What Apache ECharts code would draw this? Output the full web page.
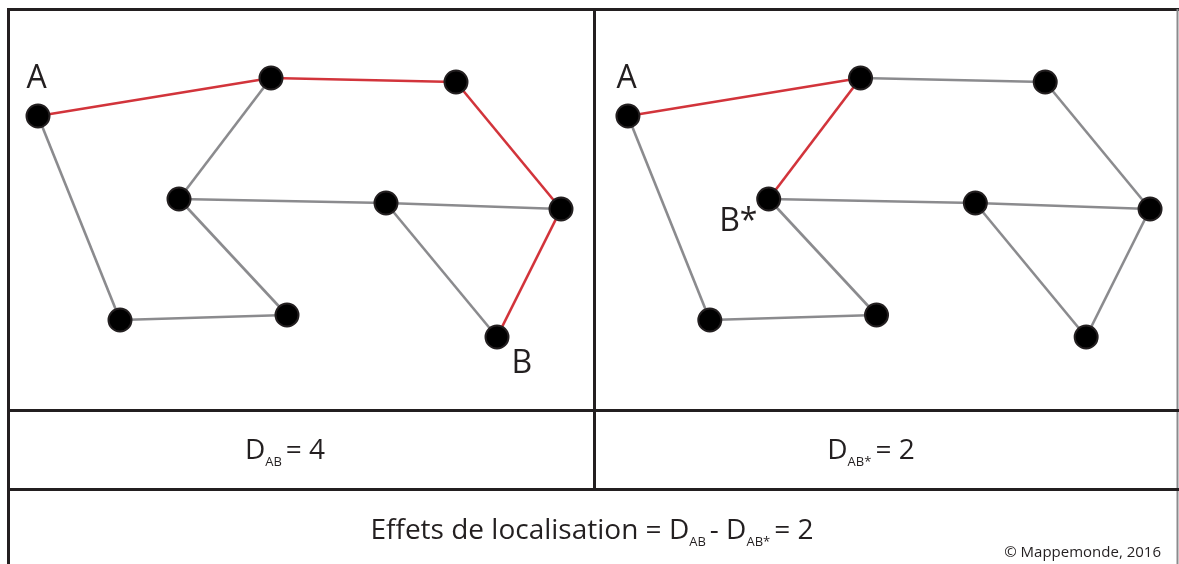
<!DOCTYPE html>
<html>
<head>
<meta charset="utf-8">
<script src="https://cdn.jsdelivr.net/npm/echarts@6/dist/echarts.min.js"></script>
<style>html,body{margin:0;padding:0;background:#fff}#c{width:1179px;height:564px}</style>
</head>
<body>
<div id="c"></div>
<script>
// Node positions (shared by both panels), in panel coordinates
var nodeNames = ['A', 'N2', 'N3', 'N4', 'N5', 'N6', 'N7', 'N8', 'B'];
var nodeX = [38, 271, 456, 179, 386, 561, 120, 287, 497];
var nodeY = [116, 78, 82, 199, 203, 209, 320, 315, 337];
// Edges of the network
var edges = [
  ['A', 'N2'], ['N2', 'N3'], ['N3', 'N6'], ['N6', 'B'],
  ['A', 'N7'], ['N7', 'N8'], ['N8', 'N4'], ['N4', 'N2'],
  ['N4', 'N5'], ['N5', 'N6'], ['N5', 'B']
];
// Highlighted path in each panel
var pathLeft = [['A', 'N2'], ['N2', 'N3'], ['N3', 'N6'], ['N6', 'B']];
var pathRight = [['A', 'N2'], ['N2', 'N4']];
// Node labels per panel
var labelsLeft = { A: 'A', B: 'B' };
var labelsRight = { A: 'A', N4: 'B*' };
// Text values
var dLeft = 4, dRight = 2, effect = 2;

var FONT = '"Open Sans", "Noto Sans", sans-serif';
var GRAY = '#8b8b8e', RED = '#d2343b';

function isOnPath(path, a, b) {
  return path.some(function (p) { return (p[0] === a && p[1] === b) || (p[0] === b && p[1] === a); });
}
var labelPos = {
  A: [1, -41],
  B: [27, 23],
  N4: [-37, 19]
};
function buildSeries(idx, path, labels) {
  return {
    type: 'graph',
    coordinateSystem: 'cartesian2d',
    xAxisIndex: idx, yAxisIndex: idx,
    symbol: 'circle', symbolSize: 23,
    silent: true,
    itemStyle: { color: '#000', borderColor: '#231f20', borderWidth: 2 },
    data: nodeNames.map(function (n, i) {
      var lab = labels[n];
      return {
        name: n, value: [nodeX[i], nodeY[i]],
        label: lab ? {
          show: true, formatter: lab, position: labelPos[n],
          fontFamily: FONT, fontSize: 32, color: '#231f20'
        } : { show: false }
      };
    }),
    links: edges.map(function (e) {
      var red = isOnPath(path, e[0], e[1]);
      return { source: e[0], target: e[1], lineStyle: { color: red ? RED : GRAY, width: 2.6, opacity: 1, curveness: 0 } };
    }),
    lineStyle: { color: GRAY, width: 2.6, opacity: 1 },
    z: 5
  };
}

var rich = {
  d: { fontFamily: FONT, fontSize: 28, fontWeight: 'normal', color: '#231f20', lineHeight: 36 },
  s: { fontFamily: FONT, fontSize: 13, fontWeight: 'normal', color: '#231f20', lineHeight: 14, verticalAlign: 'bottom', padding: [0, 4, 0, 0] }
};

var option = {
  animation: false,
  backgroundColor: '#fff',
  grid: [
    { left: 0, top: 0, width: 590, height: 564 },
    { left: 590, top: 0, width: 590, height: 564 }
  ],
  xAxis: [
    { type: 'value', gridIndex: 0, min: 0, max: 590, show: false },
    { type: 'value', gridIndex: 1, min: 0, max: 590, show: false }
  ],
  yAxis: [
    { type: 'value', gridIndex: 0, min: 0, max: 564, inverse: true, show: false },
    { type: 'value', gridIndex: 1, min: 0, max: 564, inverse: true, show: false }
  ],
  title: [
    { text: '{d|D}{s|AB}{d|= ' + dLeft + '}', left: 280, top: 428, textAlign: 'center', textStyle: { fontWeight: 'normal', rich: rich } },
    { text: '{d|D}{s|AB*}{d|= ' + dRight + '}', left: 866, top: 428, textAlign: 'center', textStyle: { fontWeight: 'normal', rich: rich } },
    { text: '{d|Effets de localisation = D}{s|AB}{d|- D}{s|AB*}{d|= ' + effect + '}', left: 587, top: 508, textAlign: 'center', textStyle: { fontWeight: 'normal', rich: rich } },
    { text: '© Mappemonde, 2016', right: 13, top: 540, textStyle: { fontFamily: FONT, fontSize: 15, fontWeight: 'normal', color: '#231f20' } }
  ],
  graphic: [
    { type: 'line', shape: { x1: 7, y1: 9.5, x2: 1179, y2: 9.5 }, style: { stroke: '#231f20', lineWidth: 3 }, silent: true },
    { type: 'line', shape: { x1: 8.5, y1: 8, x2: 8.5, y2: 564 }, style: { stroke: '#231f20', lineWidth: 3 }, silent: true },
    { type: 'line', shape: { x1: 1177.5, y1: 9, x2: 1177.5, y2: 564 }, style: { stroke: '#8b8b8e', lineWidth: 2 }, silent: true },
    { type: 'line', shape: { x1: 594.5, y1: 9, x2: 594.5, y2: 489 }, style: { stroke: '#231f20', lineWidth: 3 }, silent: true },
    { type: 'line', shape: { x1: 8, y1: 410.5, x2: 1179, y2: 410.5 }, style: { stroke: '#231f20', lineWidth: 3 }, silent: true },
    { type: 'line', shape: { x1: 8, y1: 489.5, x2: 1179, y2: 489.5 }, style: { stroke: '#231f20', lineWidth: 3 }, silent: true }
  ],
  series: [
    buildSeries(0, pathLeft, labelsLeft),
    buildSeries(1, pathRight, labelsRight)
  ]
};

var chart = echarts.init(document.getElementById('c'), null, { renderer: 'canvas' });
chart.setOption(option);
</script>
</body>
</html>
